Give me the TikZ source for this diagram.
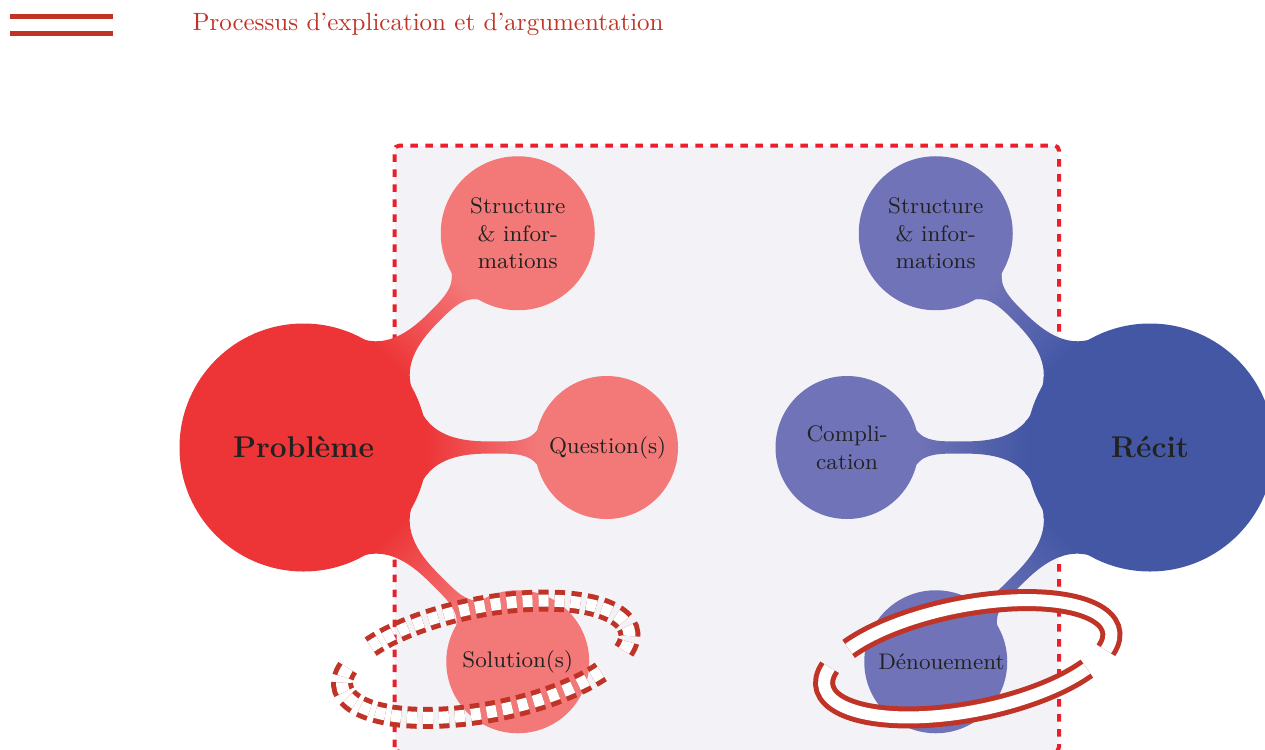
\documentclass[tikz,border=0pt]{standalone}
\usetikzlibrary{mindmap}
\definecolor{probmain}{HTML}{ED3537}
\definecolor{probsub}{HTML}{F37878}
\definecolor{recmain}{HTML}{4357A5}
\definecolor{recsub}{HTML}{7073B7}
\definecolor{zone}{HTML}{F3F2F7}
\definecolor{zoneline}{HTML}{E9202B}
\definecolor{argu}{HTML}{BF3427}
\definecolor{ink}{HTML}{222222}

\begin{document}
\begin{tikzpicture}[x=0.4pt,y=0.4pt,
  hub/.style={concept,minimum size=98pt,text width=80pt,inner sep=1pt,font=\large\bfseries,text=ink,align=center},
  leaf/.style={concept,minimum size=56pt,text width=46pt,inner sep=1pt,font=\small,text=ink,align=center},
  twig/.style={concept color=#1,level distance=121.2pt},
  ring/.style={argu,line width=2pt,double=white,double distance=4.8pt},
  dashring/.style={ring,dash pattern=on 4pt off 2.4pt}]
  \useasboundingbox (0,0) rectangle (1265,749);
  % zone
  \fill[zone] (394.5,-3) rectangle (1059,603.5);
  \draw[zoneline,line width=1.6pt,dashed,rounded corners=2pt] (394.5,-3) rectangle (1059,603.5);
  % probleme
  \path[mindmap,concept color=probmain]
    node[hub] (prob) at (303.5,301.5) {Problème}
    child[grow=45,twig=probsub] {node[leaf,minimum size=60.4pt] (probinfo) {Structure\\\& infor-\\mations}}
    child[grow=0,twig=probsub] {node[leaf] (probquest) {Question(s)}}
    child[grow=-45,twig=probsub] {node[leaf] (probsol) {Solution(s)}};
  % recit
  \path[mindmap,concept color=recmain]
    node[hub] (rec) at (1150,301.5) {Récit}
    child[grow=135,twig=recsub] {node[leaf,minimum size=60.4pt] (recinfo) {Structure\\\& infor-\\mations}}
    child[grow=180,twig=recsub] {node[leaf] (reccompl) {Compli-\\cation}}
    child[grow=-135,twig=recsub] {node[leaf] (recdeno) {Dénouement}};
  % rings
  \begin{scope}[shift={(probsol.center)},xshift=-12.8pt,yshift=1pt,rotate=11]
    \draw[dashring] (-20:146 and 52.6) arc[start angle=-20,end angle=142,x radius=146,y radius=52.6];
    \draw[dashring] (160:146 and 52.6) arc[start angle=160,end angle=322,x radius=146,y radius=52.6];
  \end{scope}
  \begin{scope}[shift={(recdeno.center)},xshift=12.8pt,yshift=1.2pt,rotate=11]
    \draw[ring] (-20:146 and 52.6) arc[start angle=-20,end angle=142,x radius=146,y radius=52.6];
    \draw[ring] (160:146 and 52.6) arc[start angle=160,end angle=322,x radius=146,y radius=52.6];
  \end{scope}
  % legend
  \coordinate (legl) at (10,724.5);
  \coordinate (legr) at (113,724.5);
  \draw[ring] (legl) -- (legr);
  \node[argu,anchor=base west,inner sep=0pt] (legtext) at (192,718.5) {Processus d'explication et d'argumentation};
\end{tikzpicture}
\end{document}
